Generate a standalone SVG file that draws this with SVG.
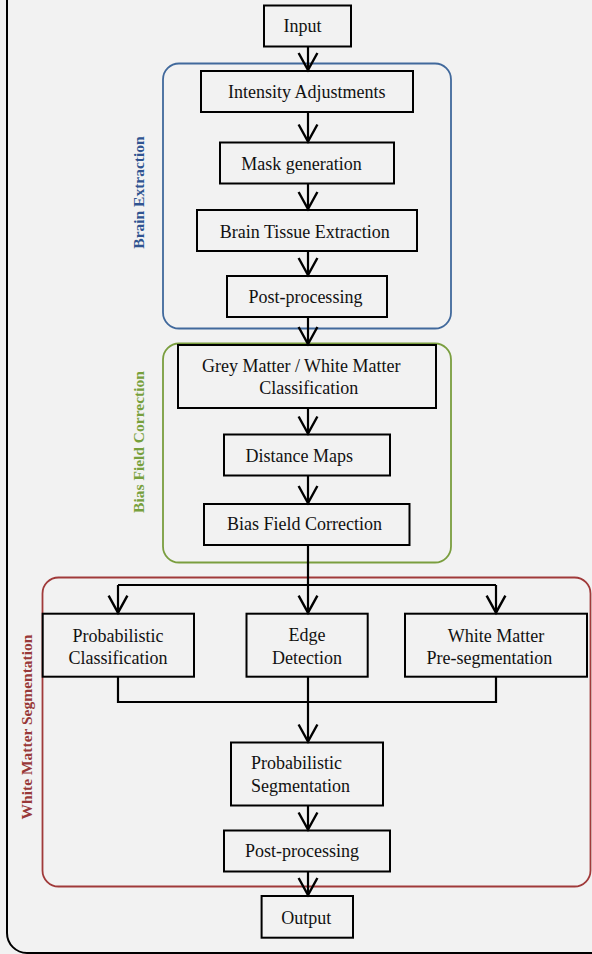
<svg xmlns="http://www.w3.org/2000/svg" width="592" height="954" viewBox="0 0 592 954">
<style>
.bg{fill:#f2f2f2}
.node rect{fill:#f2f2f2;stroke:#000;stroke-width:2}
.node text,.t{font-family:"Liberation Serif","Times New Roman",serif;font-size:18px;fill:#111;text-anchor:middle}
.grp{fill:none;stroke-width:1.8}
.lbl{font-family:"Liberation Serif","Times New Roman",serif;font-size:15.5px;font-weight:bold;text-anchor:middle}
.conn path{fill:none;stroke:#000;stroke-width:2.2}
</style>
<defs>
<marker id="v" markerUnits="userSpaceOnUse" markerWidth="40" markerHeight="40" viewBox="-20 -20 40 40" refX="0" refY="0" orient="auto" overflow="visible">
<path d="M-17,-9.4 L0,0 L-17,9.4" fill="none" stroke="#000" stroke-width="2.4"/>
</marker>
</defs>
<rect class="bg" x="0" y="0" width="592" height="954"/>
<rect x="7" y="-40" width="640" height="993" rx="20" fill="none" stroke="#000" stroke-width="2"/>

<g id="group-brain-extraction">
<rect class="grp" x="163" y="63.5" width="288" height="265" rx="16" stroke="#41699c"/>
<text class="lbl" fill="#2f5491" transform="translate(144,192.5) rotate(-90)">Brain Extraction</text>
</g>
<g id="group-bias-field">
<rect class="grp" x="163" y="343.5" width="288" height="219" rx="16" stroke="#7a9e3f"/>
<text class="lbl" fill="#77a03c" transform="translate(144,442) rotate(-90)">Bias Field Correction</text>
</g>
<g id="group-wm-seg">
<rect class="grp" x="42.5" y="577.5" width="548" height="309" rx="16" stroke="#a03a3a"/>
<text class="lbl" fill="#983838" transform="translate(32,727) rotate(-90)">White Matter Segmentation</text>
</g>

<g id="n-input" class="node"><rect x="264" y="5.5" width="87" height="41"/><text x="302.6" y="32.3">Input</text></g>
<g id="n-intensity" class="node"><rect x="201" y="71" width="212" height="41"/><text x="306.7" y="97.5">Intensity Adjustments</text></g>
<g id="n-mask" class="node"><rect x="220" y="142.5" width="174" height="41"/><text x="301.6" y="169.5">Mask generation</text></g>
<g id="n-tissue" class="node"><rect x="197" y="210" width="220" height="41"/><text x="304.8" y="237.5">Brain Tissue Extraction</text></g>
<g id="n-post1" class="node"><rect x="227" y="276" width="160" height="41"/><text x="305.4" y="303">Post-processing</text></g>
<g id="n-gmwm" class="node"><rect x="178" y="345" width="258" height="63"/><text x="301.3" y="371.7">Grey Matter / White Matter</text><text x="308.8" y="394.3">Classification</text></g>
<g id="n-dist" class="node"><rect x="224" y="434.5" width="166" height="41"/><text x="299.2" y="461.5">Distance Maps</text></g>
<g id="n-bias" class="node"><rect x="204" y="504" width="205.5" height="41"/><text x="304.5" y="530">Bias Field Correction</text></g>
<g id="n-probclass" class="node"><rect x="42.7" y="613.7" width="151.3" height="63"/><text x="118" y="641.7">Probabilistic</text><text x="118" y="664">Classification</text></g>
<g id="n-edge" class="node"><rect x="246.5" y="613.7" width="121.2" height="63"/><text x="307" y="641">Edge</text><text x="307" y="663.5">Detection</text></g>
<g id="n-wmpre" class="node"><rect x="405" y="613.7" width="182" height="63"/><text x="496" y="641.7">White Matter</text><text x="489.4" y="664">Pre-segmentation</text></g>
<g id="n-probseg" class="node"><rect x="231" y="742.5" width="152" height="63"/><text x="251" y="769" style="text-anchor:start">Probabilistic</text><text x="251" y="791.7" style="text-anchor:start">Segmentation</text></g>
<g id="n-post2" class="node"><rect x="224" y="830.5" width="166" height="41"/><text x="302" y="857.3">Post-processing</text></g>
<g id="n-output" class="node"><rect x="261.6" y="896" width="91.4" height="41.7"/><text x="306.3" y="924">Output</text></g>

<g id="connectors" class="conn">
<path d="M308,46.5 V70" marker-end="url(#v)"/>
<path d="M308,112 V141.5" marker-end="url(#v)"/>
<path d="M308,183.5 V209" marker-end="url(#v)"/>
<path d="M308,251 V275" marker-end="url(#v)"/>
<path d="M308,317 V344" marker-end="url(#v)"/>
<path d="M308,408 V433.5" marker-end="url(#v)"/>
<path d="M308,475.5 V503" marker-end="url(#v)"/>
<path d="M308,545 V585 M118,585 H496"/>
<path d="M118,585 V612.7" marker-end="url(#v)"/>
<path d="M308,585 V612.7" marker-end="url(#v)"/>
<path d="M496,585 V612.7" marker-end="url(#v)"/>
<path d="M118,676.7 V702 H496 V676.7"/>
<path d="M308,676.7 V741.5" marker-end="url(#v)"/>
<path d="M308,805.5 V829.5" marker-end="url(#v)"/>
<path d="M308,871.5 V895" marker-end="url(#v)"/>
</g>
</svg>
